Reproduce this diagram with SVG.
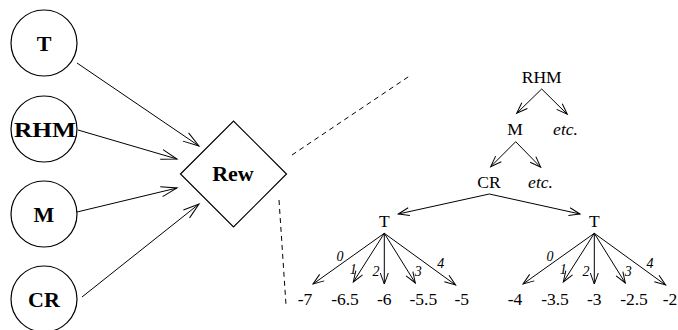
<svg xmlns="http://www.w3.org/2000/svg" width="678" height="330" viewBox="0 0 678 330">
<style>
.n{fill:#fff;stroke:#000;stroke-width:1.2}
.bl{font-family:"Liberation Serif","Times New Roman",serif;font-weight:bold;font-size:22px;text-anchor:middle}
.tr{font-family:"Liberation Serif","Times New Roman",serif;font-size:17.5px;text-anchor:middle}
.it{font-family:"Liberation Serif","Times New Roman",serif;font-style:italic;font-size:17.5px;text-anchor:middle}
.lb{font-family:"Liberation Serif","Times New Roman",serif;font-style:italic;font-size:14px;text-anchor:middle}
.c{fill:none;stroke:#000;stroke-width:1}
.big{marker-end:url(#ab)}
.sm{marker-end:url(#as)}
.d{fill:none;stroke:#000;stroke-width:1;stroke-dasharray:5,4}
</style>
<defs>
<marker id="ab" markerWidth="20" markerHeight="14" refX="16" refY="5" orient="auto" markerUnits="userSpaceOnUse" overflow="visible">
<path d="M0,0 L16,5 L0,10" fill="none" stroke="#000" stroke-width="1"/>
</marker>
<marker id="as" markerWidth="14" markerHeight="10" refX="11" refY="4" orient="auto" markerUnits="userSpaceOnUse" overflow="visible">
<path d="M0,0 L11,4 L0,8" fill="none" stroke="#000" stroke-width="1"/>
</marker>
</defs>
<g id="connectors">
<line class="c big" x1="77" y1="63" x2="199" y2="146"/>
<line class="c big" x1="78" y1="130" x2="177" y2="159"/>
<line class="c big" x1="77" y1="212" x2="177" y2="188"/>
<line class="c big" x1="82" y1="297" x2="199" y2="204"/>
<line class="d" x1="292" y1="155" x2="411" y2="75"/>
<line class="d" x1="279" y1="200" x2="286" y2="305"/>
<line class="c sm" x1="541.7" y1="89" x2="516.7" y2="113.3"/>
<line class="c sm" x1="541.7" y1="89" x2="567.3" y2="114.3"/>
<line class="c sm" x1="515.7" y1="141.7" x2="490.7" y2="166.7"/>
<line class="c sm" x1="515.7" y1="141.7" x2="540.7" y2="167.3"/>
<line class="c sm" x1="489.3" y1="194" x2="398.3" y2="214"/>
<line class="c sm" x1="489.3" y1="194" x2="580" y2="214"/>
<line class="c sm" x1="384.3" y1="233.3" x2="313" y2="284"/>
<line class="c sm" x1="384.3" y1="233.3" x2="353.3" y2="282"/>
<line class="c sm" x1="384.3" y1="233.3" x2="384.3" y2="284"/>
<line class="c sm" x1="384.3" y1="233.3" x2="415.3" y2="283"/>
<line class="c sm" x1="384.3" y1="233.3" x2="455.6" y2="285"/>
<line class="c sm" x1="594.3" y1="233.3" x2="523" y2="284"/>
<line class="c sm" x1="594.3" y1="233.3" x2="563.3" y2="282"/>
<line class="c sm" x1="594.3" y1="233.3" x2="594.3" y2="284"/>
<line class="c sm" x1="594.3" y1="233.3" x2="625.3" y2="283"/>
<line class="c sm" x1="594.3" y1="233.3" x2="665.6" y2="285"/>
</g>
<g id="node-T"><circle class="n" cx="44" cy="43" r="33"/><text class="bl" x="44" y="51">T</text></g>
<g id="node-RHM"><circle class="n" cx="44" cy="129" r="33"/><text class="bl" x="45" y="137" textLength="62" lengthAdjust="spacingAndGlyphs">RHM</text></g>
<g id="node-M"><circle class="n" cx="44" cy="214" r="33"/><text class="bl" x="44" y="222">M</text></g>
<g id="node-CR"><circle class="n" cx="44" cy="299" r="33"/><text class="bl" x="44" y="307">CR</text></g>
<g id="node-Rew"><polygon class="n" points="180.5,174 233.5,121 286.5,174 233.5,227"/><text class="bl" x="233" y="181">Rew</text></g>
<g id="tree">
<text class="tr" x="541.7" y="83">RHM</text>
<text class="tr" x="515" y="135">M</text>
<text class="it" x="565.5" y="135">etc.</text>
<text class="tr" x="489" y="188">CR</text>
<text class="it" x="540.5" y="188">etc.</text>
<text class="tr" x="384.3" y="227">T</text>
<text class="tr" x="594.3" y="227">T</text>
<text class="lb" x="340" y="261">0</text>
<text class="lb" x="353.3" y="274">1</text>
<text class="lb" x="376" y="276">2</text>
<text class="lb" x="418.3" y="276">3</text>
<text class="lb" x="440.7" y="268">4</text>
<text class="lb" x="550" y="261">0</text>
<text class="lb" x="563.3" y="274">1</text>
<text class="lb" x="586" y="276">2</text>
<text class="lb" x="628.3" y="276">3</text>
<text class="lb" x="650" y="268">4</text>
<text class="tr" x="305" y="305">-7</text>
<text class="tr" x="345" y="305">-6.5</text>
<text class="tr" x="384.3" y="305">-6</text>
<text class="tr" x="423.3" y="305">-5.5</text>
<text class="tr" x="461.7" y="305">-5</text>
<text class="tr" x="515" y="305">-4</text>
<text class="tr" x="555" y="305">-3.5</text>
<text class="tr" x="594.3" y="305">-3</text>
<text class="tr" x="634" y="305">-2.5</text>
<text class="tr" x="670" y="305">-2</text>
</g>
</svg>
